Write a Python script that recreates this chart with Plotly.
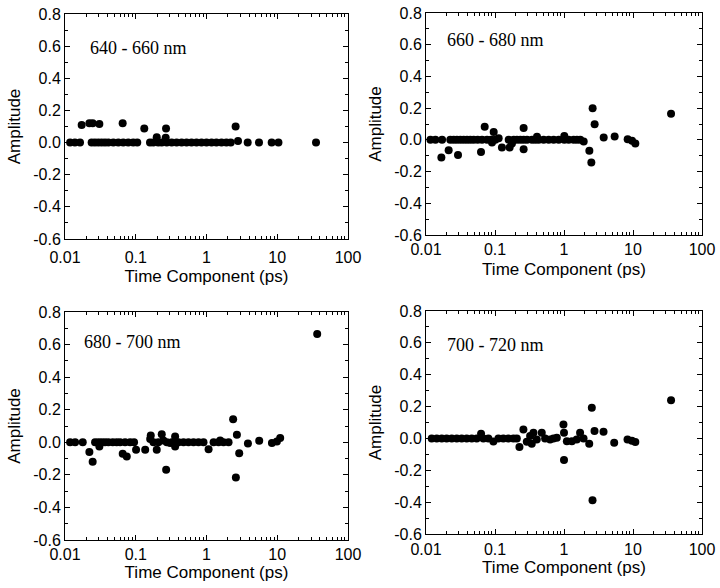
import plotly.graph_objects as go

# ---------------- data (time component in ps, amplitude) ----------------
LABELS = ["640 - 660 nm", "660 - 680 nm", "680 - 700 nm", "700 - 720 nm"]

T_640 = [0.0118, 0.0138, 0.0163, 0.0238, 0.0265, 0.0296, 0.0330, 0.0368, 0.0410, 0.0482,
         0.0567, 0.0666, 0.0783, 0.0921, 0.105, 0.159, 0.177, 0.208, 0.233, 0.274, 0.322,
         0.378, 0.445, 0.523, 0.614, 0.722, 0.849, 1.00, 1.18, 1.38, 1.63, 1.91, 2.20,
         2.79, 3.82, 5.52, 8.34, 10.4, 35.3,
         0.0172, 0.0221, 0.0246, 0.0306, 0.0653, 0.132, 0.268, 2.58, 0.198, 0.265]
A_640 = [0.0, 0.0, 0.0, 0.0, 0.0, 0.0, 0.0, 0.0, 0.0, 0.0,
         0.0, 0.0, 0.0, 0.0, 0.0, 0.0, 0.0, 0.0, 0.0, 0.0, 0.0,
         0.0, 0.0, 0.0, 0.0, 0.0, 0.0, 0.0, 0.0, 0.0, 0.0, 0.0, 0.0,
         0.01, 0.0, 0.0, 0.0, 0.0, 0.0,
         0.11, 0.12, 0.12, 0.115, 0.12, 0.087, 0.087, 0.10, 0.033, 0.03]

T_660 = [0.0116, 0.0137, 0.0171, 0.0225, 0.0252, 0.0281, 0.0315, 0.0352, 0.0393, 0.0439,
         0.0491, 0.0561, 0.0648, 0.0766, 0.0875, 0.101, 0.113, 0.158, 0.187, 0.208, 0.233,
         0.260, 0.291, 0.344, 0.384, 0.430, 0.507, 0.600, 0.708, 0.837, 1.01, 1.17, 1.38,
         1.54, 1.72, 1.93,
         0.0167, 0.0213, 0.0291, 0.0627, 0.0709, 0.0957, 0.0905, 0.126, 0.163, 0.176,
         0.260, 0.260, 0.406, 1.01, 2.33, 2.49, 2.60, 2.78, 3.76, 5.42, 8.37, 9.68, 10.8, 35.6]
A_660 = [0.0, 0.0, 0.0, 0.0, 0.0, 0.0, 0.0, 0.0, 0.0, 0.0,
         0.0, 0.0, 0.0, 0.0, 0.0, 0.0, 0.01, 0.0, 0.0, 0.0, 0.0,
         0.0, 0.0, 0.0, 0.0, 0.0, 0.0, 0.0, 0.0, 0.0, 0.0, 0.0, 0.0,
         0.0, 0.0, -0.01,
         -0.112, -0.065, -0.095, -0.076, 0.082, 0.05, -0.017, -0.048, -0.048, -0.023,
         0.074, -0.059, 0.02, 0.025, -0.069, -0.143, 0.20, 0.099, 0.015, 0.021, 0.004, -0.006, -0.023, 0.164]

T_680 = [0.0118, 0.0139, 0.0178, 0.0266, 0.0297, 0.0330, 0.0368, 0.0410, 0.0473, 0.0538,
         0.0600, 0.0706, 0.0832, 0.0946, 0.178, 0.209, 0.275, 0.323, 0.402, 0.473, 0.556,
         0.655, 0.770, 0.907, 1.26, 1.48, 1.74, 2.05,
         0.0221, 0.0246, 0.0306, 0.0654, 0.0746, 0.101, 0.136, 0.160, 0.163, 0.198, 0.233,
         0.246, 0.269, 0.306, 0.360, 0.360, 1.07, 1.56, 2.38, 2.60, 2.69, 2.90, 3.85, 5.56,
         8.41, 9.89, 11.0, 36.7]
A_680 = [0.0, 0.0, 0.0, 0.0, 0.0, 0.0, 0.0, 0.0, 0.0, 0.0,
         0.0, 0.0, 0.0, 0.0, 0.0, 0.0, 0.0, 0.0, 0.0, 0.0, 0.0,
         0.0, 0.0, 0.0, 0.0, 0.0, 0.0, 0.0,
         -0.06, -0.12, -0.026, -0.071, -0.087, -0.046, -0.046, 0.02, 0.042, -0.046, 0.05,
         0.011, -0.169, -0.005, 0.036, -0.026, -0.042, 0.011, 0.142, -0.216, 0.046, -0.067, -0.007, 0.009,
         -0.005, 0.005, 0.026, 0.665]

T_700 = [0.0121, 0.0143, 0.0169, 0.0199, 0.0236, 0.0279, 0.0329, 0.0389, 0.0460, 0.0543,
         0.0679, 0.0802, 0.112, 0.132, 0.156, 0.185, 0.207, 0.532, 0.703, 1.92,
         0.0628, 0.0948, 0.226, 0.258, 0.289, 0.323, 0.341, 0.361, 0.403, 0.476, 0.629,
         0.787, 0.982, 1.00, 1.00, 1.10, 1.30, 1.53, 1.71, 2.32, 2.53, 2.59, 2.77, 3.74,
         5.34, 8.33, 9.64, 10.8, 35.6]
A_700 = [0.0, 0.0, 0.0, 0.0, 0.0, 0.0, 0.0, 0.0, 0.0, 0.0,
         0.0, 0.0, 0.0, 0.0, 0.0, 0.0, 0.0, 0.0, 0.0, 0.0,
         0.029, -0.019, -0.054, 0.056, -0.021, 0.015, -0.033, 0.035, -0.006, 0.035, -0.006,
         0.004, 0.0875, 0.035, -0.135, -0.017, -0.017, -0.006, 0.035, -0.033, 0.192, -0.3875, 0.046, 0.042,
         -0.027, -0.006, -0.015, -0.023, 0.24]

SERIES = [(T_640, A_640), (T_660, A_660), (T_680, A_680), (T_700, A_700)]

Y_TICKS = [-0.6, -0.4, -0.2, 0.0, 0.2, 0.4, 0.6, 0.8]
Y_TICK_LABELS = ["-0.6", "-0.4", "-0.2", "0.0", "0.2", "0.4", "0.6", "0.8"]
X_TICKS = [0.01, 0.1, 1, 10, 100]
X_TICK_LABELS = ["0.01", "0.1", "1", "10", "100"]
X_MINOR = [m * d for d in [0.01, 0.1, 1, 10] for m in range(2, 10)]
Y_MINOR = [-0.5, -0.3, -0.1, 0.1, 0.3, 0.5, 0.7]

# ---------------- layout geometry ----------------
W, H = 720, 588
# pixel boxes (left, right, top, bottom)
BOXES = [(65, 348, 14, 239), (426, 702, 13, 235), (65, 348, 312, 540), (426, 702, 311, 534)]
LABEL_POS = [(0.081, 0.849), (0.069, 0.878), (0.059, 0.87), (0.069, 0.848)]
# (tick label standoff, x-title standoff) per panel
X_GAPS = [(4, 4), (0, 5), (0, 2), (1, 1)]

SANS = "Liberation Sans, Arial, sans-serif"
SERIF = "Liberation Serif, Times New Roman, serif"

fig = go.Figure()
layout = dict(
    width=W, height=H,
    margin=dict(l=0, r=0, t=0, b=0),
    paper_bgcolor="white", plot_bgcolor="white",
    showlegend=False,
    font=dict(family=SANS, color="black", size=16),
    annotations=[],
)

for i, ((t, a), (l, r, top, bot)) in enumerate(zip(SERIES, BOXES)):
    n = "" if i == 0 else str(i + 1)
    tls, tst = X_GAPS[i]
    fig.add_trace(go.Scatter(
        x=t, y=a, mode="markers",
        marker=dict(color="black", size=8, line=dict(width=0)),
        xaxis="x" + n, yaxis="y" + n, hoverinfo="skip",
    ))
    layout["xaxis" + n] = dict(
        type="log", range=[-2, 2], domain=[l / W, r / W], anchor="y" + n,
        automargin=False,
        showline=True, linecolor="black", linewidth=1, mirror="allticks",
        ticks="inside", ticklen=5, tickcolor="black",
        tickvals=X_TICKS, ticktext=X_TICK_LABELS,
        tickfont=dict(family=SANS, size=16), ticklabelstandoff=tls,
        minor=dict(ticks="inside", ticklen=3, tickcolor="black", tickvals=X_MINOR, showgrid=False),
        showgrid=False, zeroline=False,
        title=dict(text="Time Component (ps)", font=dict(family=SANS, size=17), standoff=tst),
    )
    layout["yaxis" + n] = dict(
        range=[-0.6, 0.8], domain=[1 - bot / H, 1 - top / H], anchor="x" + n,
        automargin=False,
        showline=True, linecolor="black", linewidth=1, mirror="allticks",
        ticks="inside", ticklen=5, tickcolor="black",
        tickvals=Y_TICKS, ticktext=Y_TICK_LABELS,
        tickfont=dict(family=SANS, size=16),
        minor=dict(ticks="inside", ticklen=3, tickcolor="black", tickvals=Y_MINOR, showgrid=False),
        showgrid=False, zeroline=False,
        title=dict(text="Amplitude", font=dict(family=SANS, size=17), standoff=8),
    )
    lx, ly = LABEL_POS[i]
    layout["annotations"].append(dict(
        text=LABELS[i], xref="x" + n + " domain", yref="y" + n + " domain",
        x=lx, y=ly, xanchor="left", yanchor="middle", showarrow=False,
        font=dict(family=SERIF, size=18, color="black"),
    ))

fig.update_layout(**layout)
fig.write_html("out.html", config={"displayModeBar": False, "staticPlot": True},
               post_script="document.body.style.margin='0px';")
